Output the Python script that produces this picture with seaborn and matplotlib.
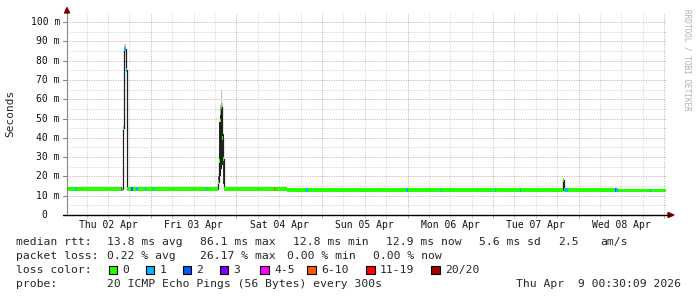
import numpy as np
import pandas as pd
import matplotlib
matplotlib.use("Agg")
import matplotlib.pyplot as plt
import seaborn as sns
from matplotlib.patches import Rectangle, Polygon
import matplotlib.transforms as mtransforms

# ---------------- data (hours since Thu 2026-04-02 00:30) ----------------
seg_start = [0.0, 2.2, 2.5, 15.1, 15.4, 15.7, 16.0, 16.6, 16.9, 17.9, 18.5, 19.3, 19.8,
             21.8, 22.1, 24.1, 24.4, 38.9, 39.2,
             42.4, 42.65, 42.9, 43.15, 43.4, 43.65, 43.85, 44.05,
             58.0, 58.3, 61.7, 67.0, 67.6, 95.2, 95.5, 105.0, 105.3, 120.0, 120.3,
             127.0, 127.3, 139.0, 139.3, 139.6, 140.4, 153.6, 153.9, 154.6, 163.4, 163.7]
median_ms = [13.6, 13.6, 13.6, 13.6, 13.6, 45.0, 86.1, 75.0, 13.6, 13.6, 13.6, 13.6, 13.6,
             13.6, 13.6, 13.6, 13.6, 13.6, 13.6,
             17.0, 28.0, 49.0, 56.0, 40.0, 31.0, 29.0, 13.6,
             13.6, 13.6, 13.0, 13.0, 13.0, 13.0, 13.0, 13.0, 13.0, 13.0, 13.0,
             13.0, 13.0, 18.0, 13.0, 13.0, 13.0, 12.8, 12.8, 12.7, 12.7, 12.7]
loss_bucket = [0, 1, 0, 4, 0, 0, 1, 1, 0, 2, 0, 1, 0,
               1, 0, 1, 0, 1, 0,
               0, 0, 0, 0, 0, 0, 0, 0,
               5, 0, 0, 1, 0, 1, 0, 1, 0, 1, 0,
               1, 0, 0, 0, 1, 0, 2, 1, 0, 1, 0]
t_end = 168.0

# smoke (spread of the 20 pings) around the spikes
smoke_start = [16.0, 42.9, 43.15, 43.4,
               42.4, 42.65, 42.9, 43.15, 43.4, 43.65, 43.85]
smoke_lo = [84.0, 50.0, 55.0, 52.0,
            15.0, 18.0, 20.0, 24.0, 26.0, 22.0, 16.0]
smoke_hi = [88.5, 57.0, 65.0, 58.0,
            20.0, 48.0, 52.0, 57.0, 54.0, 42.0, 32.0]
smoke_width = [0.6, 0.3, 0.3, 0.3,
               0.3, 0.3, 0.3, 0.3, 0.3, 0.25, 0.25]
smoke_color = ["#d0d0d0", "#b0b0b0", "#c0c0c0", "#b8b8b8",
               "#505050", "#282828", "#202020", "#202020", "#202020", "#282828", "#383838"]

loss_labels = ["0", "1", "2", "3", "4-5", "6-10", "11-19", "20/20"]
loss_colors = ["#26ff00", "#00b8ff", "#0059ff", "#7e00ff", "#ff00ff",
               "#ff5500", "#ff0000", "#a00000"]

day_labels = ["Thu 02 Apr", "Fri 03 Apr", "Sat 04 Apr", "Sun 05 Apr",
              "Mon 06 Apr", "Tue 07 Apr", "Wed 08 Apr"]
y_ticks = [0, 10, 20, 30, 40, 50, 60, 70, 80, 90, 100]
y_tick_labels = ["0", "10 m", "20 m", "30 m", "40 m", "50 m", "60 m",
                 "70 m", "80 m", "90 m", "100 m"]

# ---------------- figure ----------------
W, H = 697, 297
sns.set_style("white")
plt.rcParams["font.family"] = ["DejaVu Sans Mono"]
fig = plt.figure(figsize=(W / 100, H / 100), dpi=100)
fig.patch.set_facecolor("white")

def fx(px):
    return px / W

def fy(py):
    return 1 - py / H

ax = fig.add_axes([fx(67), fy(215), 599 / W, (215 - 13) / H])
ymax = (215 - 13) / 1.93
ax.set_xlim(0, 168)
ax.set_ylim(0, ymax)
for s in ax.spines.values():
    s.set_visible(False)
ax.set_xticks([])
ax.set_yticks([])
ax.set_facecolor("white")

# grid
grid_gray = (0.55, 0.55, 0.55, 0.38)
grid_red = (0.51, 0.12, 0.12, 0.38)
for y in range(5, 101, 5):
    ax.axhline(y, color=grid_red if y % 10 == 0 else grid_gray, lw=0.72,
               linestyle=(0, (1, 1.4)), zorder=1)
for k in range(0, 29):
    xv = 5.5 + 6 * k
    if xv > 168:
        break
    major = abs((xv - 23.5) % 24) < 1e-6
    ax.axvline(xv, color=grid_red if major else grid_gray, lw=0.72,
               linestyle=(0, (1, 1.4)), zorder=1)

# smoke
ax.bar(smoke_start, np.array(smoke_hi) - np.array(smoke_lo), bottom=smoke_lo,
       width=smoke_width, align="edge", color=smoke_color, linewidth=0, zorder=2)

# median line (thin dark)
ts = seg_start + [t_end]
ms = median_ms + [median_ms[-1]]
df = pd.DataFrame({"t": ts, "median": ms})
sns.lineplot(data=df, x="t", y="median", drawstyle="steps-post", color="#202020",
             linewidth=0.9, estimator=None, ax=ax, zorder=3)
ax.set_xlabel("")
ax.set_ylabel("")

# loss-coloured median band
sw = 0.95
widths = np.diff(ts)
ax.bar(seg_start, 2 * sw, bottom=np.array(median_ms) - sw, width=widths, align="edge",
       color=[loss_colors[b] for b in loss_bucket], linewidth=0, zorder=4)

# axes lines + arrows
ax.plot([0, 0], [0, ymax], color="#888888", lw=0.8, clip_on=False, zorder=5,
        transform=ax.transData)
fig.add_artist(Polygon([(fx(64.5), fy(13)), (fx(69.5), fy(13)), (fx(67), fy(7.5))],
                       closed=True, color="#800000", transform=fig.transFigure))
fig.add_artist(plt.Line2D([fx(63), fx(670)], [fy(215), fy(215)], color="black", lw=1.0,
                          transform=fig.transFigure))
fig.add_artist(Polygon([(fx(668), fy(212.5)), (fx(668), fy(217.5)), (fx(674), fy(215))],
                       closed=True, color="#800000", transform=fig.transFigure))

# y tick marks and labels
trans_y = ax.get_yaxis_transform()
for y, lab in zip(y_ticks, y_tick_labels):
    ax.plot([-4 / 599, 0], [y, y], color="#888888", lw=0.8, transform=trans_y,
            clip_on=False)
    off = -7 if lab != "0" else -19.5
    tr = trans_y + mtransforms.ScaledTranslation(off / 100, 0, fig.dpi_scale_trans)
    ax.text(0, y, lab, transform=tr, ha="right", va="center", fontsize=7,
            color="#111111")

# x tick marks and labels
trans_x = ax.get_xaxis_transform()
for k in range(0, 29):
    xv = 5.5 + 6 * k
    if xv > 168:
        break
    major = abs((xv - 23.5) % 24) < 1e-6
    ax.plot([xv, xv], [0, -3 / 202], color=grid_red if major else grid_gray, lw=0.8,
            transform=trans_x, clip_on=False)
for i, lab in enumerate(day_labels):
    ax.text(11.5 + 24 * i, fy(224.5), lab, transform=mtransforms.blended_transform_factory(
        ax.transData, fig.transFigure), ha="center", va="center", fontsize=7,
        color="#111111")

# y label and watermark
fig.text(fx(10.5), fy(113.5), "Seconds", rotation=90, ha="center", va="center",
         fontsize=8)
fig.text(fx(687), fy(60), "RRDTOOL / TOBI OETIKER", rotation=-90, ha="center",
         va="center", fontsize=5.6, color="#b0b0b0")

# ---------------- legend text ----------------
fs = 8.2
line1 = [(16, "median rtt:"), (107, "13.8 ms avg"), (200, "86.1 ms max"),
         (293, "12.8 ms min"), (386, "12.9 ms now"), (479, "5.6 ms sd"),
         (558, "2.5"), (600, "am/s")]
line2 = [(16, "packet loss:"), (107, "0.22 % avg"), (200, "26.17 % max"),
         (287, "0.00 % min"), (373, "0.00 % now")]
for xp, s in line1:
    fig.text(fx(xp), fy(245), s, ha="left", va="baseline", fontsize=fs)
for xp, s in line2:
    fig.text(fx(xp), fy(259), s, ha="left", va="baseline", fontsize=fs)

fig.text(fx(16), fy(273), "loss color:", ha="left", va="baseline", fontsize=fs)
box_x = [108.5, 145.5, 182.5, 219.5, 260, 307, 366, 431]
for bx, lab, col in zip(box_x, loss_labels, loss_colors):
    fig.add_artist(Rectangle((fx(bx), fy(274)), 8.5 / W, 8.5 / H, facecolor=col,
                             edgecolor="black", lw=0.8, transform=fig.transFigure))
    fig.text(fx(bx + 14), fy(273), lab, ha="left", va="baseline", fontsize=fs)

fig.text(fx(16), fy(287), "probe:", ha="left", va="baseline", fontsize=fs)
fig.text(fx(107), fy(287), "20 ICMP Echo Pings (56 Bytes) every 300s", ha="left",
         va="baseline", fontsize=fs)
fig.text(fx(681), fy(287), "Thu Apr  9 00:30:09 2026", ha="right", va="baseline",
         fontsize=fs)

fig.savefig("out.png", dpi=100, facecolor="white")
